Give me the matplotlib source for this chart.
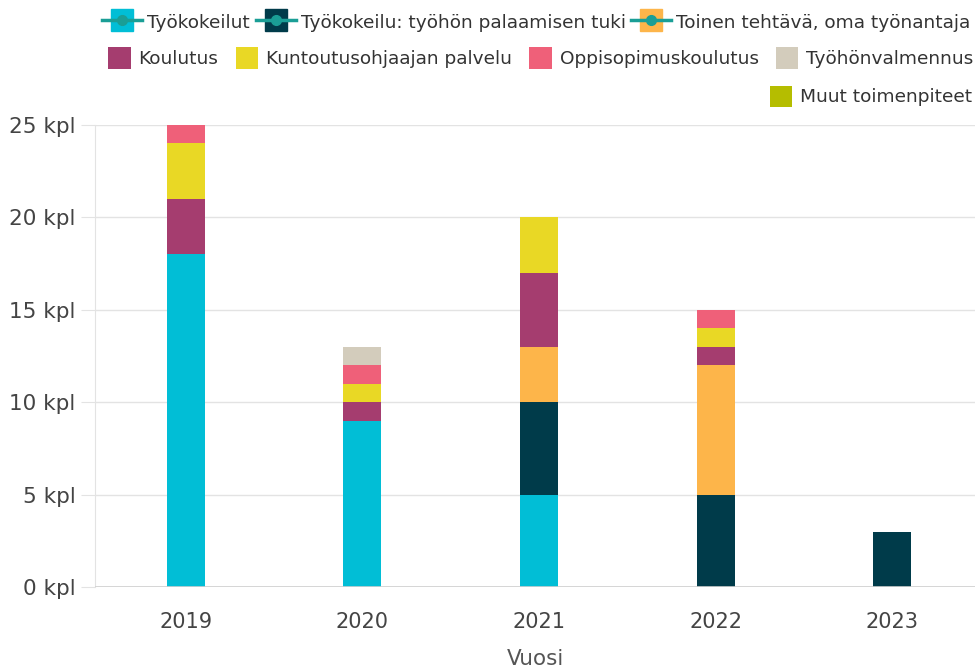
import matplotlib.pyplot as plt
import numpy as np
from matplotlib.patches import Patch
from matplotlib.lines import Line2D
from matplotlib.legend_handler import HandlerTuple

# === data ===
years = ["2019", "2020", "2021", "2022", "2023"]
series_names = [
    "Työkokeilut",
    "Työkokeilu: työhön palaamisen tuki",
    "Toinen tehtävä, oma työnantaja",
    "Koulutus",
    "Kuntoutusohjaajan palvelu",
    "Oppisopimuskoulutus",
    "Työhönvalmennus",
    "Muut toimenpiteet",
]
tyokokeilut = [18, 9, 5, 0, 0]
tuki = [0, 0, 5, 5, 3]
toinen = [0, 0, 3, 7, 0]
koulutus = [3, 1, 4, 1, 0]
kuntoutus = [3, 1, 3, 1, 0]
oppisopimus = [1, 1, 0, 1, 0]
valmennus = [0, 1, 0, 0, 0]
muut = [0, 0, 0, 0, 0]
y_ticks = [0, 5, 10, 15, 20, 25]

colors = ["#01BED6", "#003B4A", "#FDB54A", "#A53D6F",
          "#E9D825", "#EF6079", "#D3CCBC", "#B5BD00"]
line_col = "#1A9E96"

fig = plt.figure(figsize=(9.76, 6.68), dpi=100)
ax = fig.add_axes([0.0973, 0.1213, 0.9017, 0.6916])

x = np.arange(len(years))
bottom = np.zeros(len(years))
all_series = [tyokokeilut, tuki, toinen, koulutus, kuntoutus, oppisopimus, valmennus, muut]
for vals, col in zip(all_series, colors):
    vals = np.array(vals, dtype=float)
    ax.bar(x, vals, width=0.215, bottom=bottom, color=col, zorder=3)
    bottom += vals

ax.set_xlim(-0.514, 4.469)
ax.set_ylim(0, 25)
ax.set_yticks(y_ticks)
ax.set_yticklabels([f"{v} kpl" for v in y_ticks])
ax.set_xticks(x)
ax.set_xticklabels(years)
ax.grid(axis="y", color="#E3E3E3", linewidth=1, zorder=0)
for s in ["top", "right", "bottom"]:
    ax.spines[s].set_visible(False)
ax.spines["left"].set_color("#E3E3E3")
ax.axhline(0, color="#D0D0D0", linewidth=1.2, zorder=4)
ax.tick_params(axis="y", length=10, color="#E3E3E3", labelsize=15.5, labelcolor="#444444", pad=4)
ax.tick_params(axis="x", length=0, labelsize=15, labelcolor="#444444", pad=18)
ax.set_xlabel("Vuosi", fontsize=15.5, color="#555555", labelpad=12)

# === legend, three right-aligned rows ===
def combo(col):
    return (Line2D([], [], color=col, marker="s", markersize=16, linestyle="none"),
            Line2D([], [], color=line_col, lw=2.5, marker="o", markersize=7))

row1 = [combo(c) for c in colors[:3]]
row2 = [Patch(facecolor=c, edgecolor="none") for c in colors[3:7]]
row3 = [Patch(facecolor=colors[7], edgecolor="none")]

common = dict(frameon=False, loc="upper right", borderaxespad=0,
              labelcolor="#333333", prop={"size": 13.3})
l1 = fig.legend(row1, series_names[:3], ncol=3, bbox_to_anchor=(1.002, 0.994),
                handlelength=2.16, handleheight=1.4, handletextpad=0.27,
                columnspacing=0.32, numpoints=1,
                handler_map={tuple: HandlerTuple(ndivide=1, pad=0)}, **common)
l2 = fig.legend(row2, series_names[3:7], ncol=4, bbox_to_anchor=(1.005, 0.94),
                handlelength=1.2, handleheight=1.4, handletextpad=0.43,
                columnspacing=0.95, **common)
l3 = fig.legend(row3, series_names[7:], ncol=1, bbox_to_anchor=(1.004, 0.883),
                handlelength=1.2, handleheight=1.4, handletextpad=0.43, **common)

fig.savefig("out.png", dpi=100)
